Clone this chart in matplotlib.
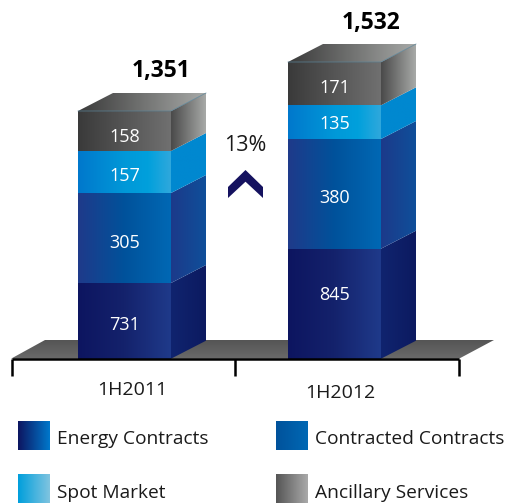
import matplotlib
matplotlib.use("Agg")
import matplotlib.pyplot as plt
import numpy as np
from matplotlib.colors import LinearSegmentedColormap, to_rgb
from matplotlib.patches import Polygon

plt.rcParams['font.family'] = ['Open Sans', 'DejaVu Sans']

# donnees du graphique
periods = ['1H2011', '1H2012']
series = ['Energy Contracts', 'Contracted Contracts', 'Spot Market', 'Ancillary Services']
labels_2011 = [731, 305, 157, 158]
labels_2012 = [845, 380, 135, 171]
totals = ['1,351', '1,532']
growth = '13%'

# the source chart is not to scale, so drawn heights are read separately from the labels
heights_2011 = [75.7, 90, 42, 40]
heights_2012 = [110, 109.7, 33.7, 43.3]

# decalage vertical des etiquettes par rapport au centre du segment
offsets_2011 = [-4, -5, -4, -6]
offsets_2012 = [9, -4, -2, -4]

# degrades : face avant, cote
front_colors = [
    ['#0d1560', '#14226c', '#1f3a8a'],
    ['#1f3a8a', '#00529b', '#0068b4'],
    ['#0078cc', '#0088d2', '#0098d8', '#00a0dc', '#2fa8dc'],
    ['#3a3a3a', '#555555', '#707070'],
]
side_colors = [
    ['#10246f', '#0c1a60'],
    ['#1c3a8a', '#0f4f9a'],
    ['#0088d0', '#0088d0'],
    ['#4a4a4a', '#a8aaa8'],
]
swatch_colors = [
    ['#0d1560', '#0078cc'],
    ['#00529b', '#0068b4'],
    ['#009fdc', '#80c4e0'],
    ['#555555', '#aaaaaa'],
]
top_colors = ['#3a3a3a', '#a8aaa8']

BASE_Y = 358.7
BAR_W = 93
DX, DY = 35, 18
bar_left = [78, 288]

fig = plt.figure(figsize=(5.06, 5.04), dpi=100)
ax = fig.add_axes([0, 0, 1, 1])
ax.axis('off')


def gradient_poly(points, colors, vertical=False, zorder=2):
    # polygone rempli par un degrade, via imshow + clip
    pts = np.array(points)
    cmap = LinearSegmentedColormap.from_list('g', [to_rgb(c) for c in colors])
    grad = np.linspace(0, 1, 256)
    grad = grad.reshape(-1, 1) if vertical else grad.reshape(1, -1)
    extent = (pts[:, 0].min(), pts[:, 0].max(), pts[:, 1].min(), pts[:, 1].max())
    im = ax.imshow(grad, cmap=cmap, extent=extent, origin='lower', aspect='auto',
                   interpolation='bilinear', zorder=zorder)
    patch = Polygon(pts, closed=True, transform=ax.transData, fc='none', ec='none')
    ax.add_patch(patch)
    im.set_clip_path(patch)


def draw_bar(x0, heights, labels, offsets):
    x1 = x0 + BAR_W
    tops = np.cumsum(heights)
    bottoms = tops - np.array(heights)
    for i in range(len(heights)):
        b, t = bottoms[i], tops[i]
        gradient_poly([(x0, b), (x1, b), (x1, t), (x0, t)], front_colors[i], zorder=3)
        gradient_poly([(x1, b), (x1 + DX, b + DY), (x1 + DX, t + DY), (x1, t)], side_colors[i], zorder=3)
        ax.text((x0 + x1) / 2, (b + t) / 2 + offsets[i], str(labels[i]), color='white', fontsize=13,
                ha='center', va='center', zorder=5)
    t = tops[-1]
    gradient_poly([(x0, t), (x1, t), (x1 + DX, t + DY), (x0 + DX, t + DY)], top_colors, zorder=3)
    ax.plot([x0, x1, x1 + DX], [t, t, t + DY], color='#5a8296', lw=0.5, zorder=4)


# plancher gris
gradient_poly([(11, 0), (459, 0), (494, 18.7), (45, 18.7)], ['#6a6a6a', '#555555'], vertical=True, zorder=1)

draw_bar(bar_left[0], heights_2011, labels_2011, offsets_2011)
draw_bar(bar_left[1], heights_2012, labels_2012, offsets_2012)

# axe + graduations
ax.plot([12, 459], [0, 0], color='black', lw=1.8, zorder=6, solid_capstyle='butt')
for xt in [12, 235.5, 459]:
    ax.plot([xt, xt], [0, -17.5], color='black', lw=1.8, zorder=6, solid_capstyle='butt')

ax.text(132, -31, periods[0], fontsize=14, color='#1a1a1a', ha='center', va='center')
ax.text(340, -34, periods[1], fontsize=14, color='#1a1a1a', ha='center', va='center')

# totaux
ax.text(161, 287.5, totals[0], fontsize=16.5, fontweight='bold', color='black', ha='center', va='center')
ax.text(371, 336, totals[1], fontsize=16.5, fontweight='bold', color='black', ha='center', va='center')

# hausse
ax.text(245.5, 213.5, growth, fontsize=15.5, color='#1a1a1a', ha='center', va='center')
chevron = Polygon([(228, 160.7), (228, 171.7), (245.5, 188.7), (263, 171.7), (263, 160.7), (245.5, 177)],
                  closed=True, fc='#15125f', ec='none', zorder=4)
ax.add_patch(chevron)

# legende
swatch_x = [18, 276, 18, 276]
swatch_top = [421, 421, 474, 474]
for i, name in enumerate(series):
    x = swatch_x[i]
    y1 = BASE_Y - swatch_top[i]
    y0 = y1 - 29
    gradient_poly([(x, y0), (x + 32, y0), (x + 32, y1), (x, y1)], swatch_colors[i])
    ax.text(x + 39, (y0 + y1) / 2 - 4, name, fontsize=13.8, color='#1a1a1a', ha='left', va='center')

ax.set_xlim(0, 506)
ax.set_ylim(BASE_Y - 504, BASE_Y)

fig.savefig('out.png', dpi=100)
